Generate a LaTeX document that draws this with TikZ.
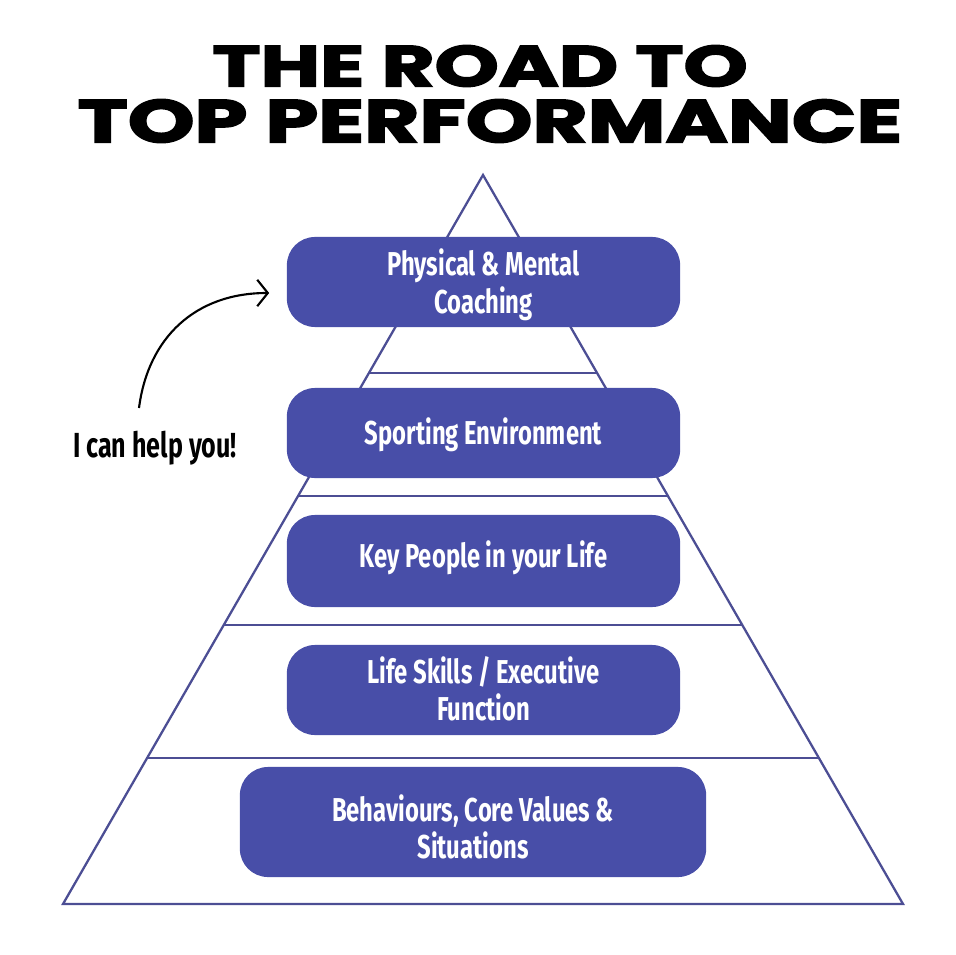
\documentclass[tikz,border=0pt]{standalone}
\usepackage{fontspec}
\usepackage{graphicx}
\usetikzlibrary{arrows.meta,calc}
\newfontfamily\titlefont{Poppins}[BoldFeatures={FakeBold=2.5}]
\newfontfamily\labelfont{Fira Sans}
\definecolor{pillblue}{RGB}{72,78,168}
\definecolor{edgeblue}{RGB}{76,78,148}
\newcommand{\pilltext}[2][0.035cm]{\raisebox{-#1}[\height][\depth]{%
  \scalebox{0.72}[1]{\labelfont\bfseries\fontsize{9.4}{10}\selectfont
  \begin{tabular}{@{}c@{}}#2\end{tabular}}}}

\begin{document}
\begin{tikzpicture}[x=0.01cm, y=-0.01cm, >=Stealth,
    pill/.style={fill=pillblue, rounded corners=8pt, inner sep=0pt, text=white,
      minimum width=3.93cm, minimum height=0.9cm},
    level/.style={draw=edgeblue, line width=0.65pt}]
  \useasboundingbox (0,0) rectangle (955,955);
  % title
  \node (title1) at (480,66) {\resizebox{5.35cm}{0.41cm}{\titlefont\bfseries THE ROAD TO}};
  \node (title2) at (490,121) {\resizebox{8.24cm}{0.43cm}{\titlefont\bfseries TOP PERFORMANCE}};
  % pyramid
  \coordinate (apex) at (483,175);
  \coordinate (bl) at (63,904);
  \coordinate (br) at (903,904);
  \draw[level, line join=miter] (apex) -- (bl) -- (br) -- cycle;
  \foreach \t in {0.2716,0.4403,0.6173,0.7997}
    \draw[level] ($(apex)!\t!(bl)$) -- ($(apex)!\t!(br)$);
  % levels
  \node[pill] (coach) at (483.5,282) {\pilltext[0.045cm]{Physical \& Mental\\Coaching}};
  \node[pill] (sport) at (483.5,433) {\pilltext{Sporting Environment}};
  \node[pill, minimum height=0.92cm] (people) at (483.5,561) {\pilltext[-0.02cm]{Key People in your Life}};
  \node[pill] (skills) at (483.5,690) {\pilltext{Life Skills / Executive\\Function}};
  \node[pill, minimum width=4.66cm, minimum height=1.1cm] (values) at (473,822)
    {\pilltext[0.1cm]{Behaviours, Core Values \&\\Situations}};
  % note
  \node (help) at (155,448) {\scalebox{0.72}[1]{\labelfont\bfseries\fontsize{9.9}{11}\selectfont I can help you!}};
  \coordinate (tail) at (139,408);
  \draw[-{Straight Barb[length=3pt,width=7.5pt]}, line width=0.6pt]
    (tail) .. controls (148,338) and (195,293) .. ($(coach.west)+(-17,11)$);
\end{tikzpicture}
\end{document}
